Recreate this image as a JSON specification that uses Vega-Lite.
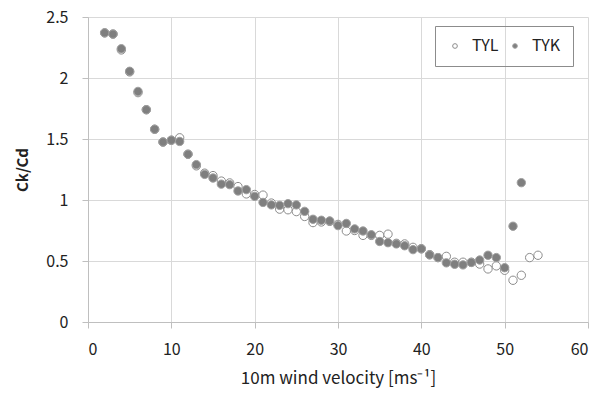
{
  "$schema": "https://vega.github.io/schema/vega-lite/v6.json",
  "width": 500,
  "height": 305,
  "autosize": {"type": "none"},
  "padding": {"left": 88, "top": 17, "right": 13, "bottom": 74},
  "background": "#ffffff",
  "config": {
    "font": "Noto Sans CJK JP",
    "view": {"stroke": null},
    "axis": {
      "gridColor": "#d9d9d9",
      "domainColor": "#bfbfbf",
      "tickColor": "#bfbfbf",
      "tickSize": 6,
      "labelFontSize": 16,
      "labelColor": "#222222",
      "titleFontSize": 15,
      "titleColor": "#222222",
      "labelFont": "Noto Sans CJK JP",
      "titleFont": "Noto Sans CJK JP"
    },
    "legend": {
      "labelFont": "Noto Sans CJK JP"
    }
  },
  "data": {
    "values": [
      {"v": 2, "r": 2.37, "s": "TYL"}, {"v": 3, "r": 2.36, "s": "TYL"}, {"v": 4, "r": 2.23, "s": "TYL"}, {"v": 5, "r": 2.05, "s": "TYL"},
      {"v": 6, "r": 1.88, "s": "TYL"}, {"v": 7, "r": 1.74, "s": "TYL"}, {"v": 8, "r": 1.58, "s": "TYL"}, {"v": 9, "r": 1.475, "s": "TYL"},
      {"v": 10, "r": 1.49, "s": "TYL"}, {"v": 11, "r": 1.51, "s": "TYL"}, {"v": 12, "r": 1.375, "s": "TYL"}, {"v": 13, "r": 1.28, "s": "TYL"},
      {"v": 14, "r": 1.22, "s": "TYL"}, {"v": 15, "r": 1.2, "s": "TYL"}, {"v": 16, "r": 1.155, "s": "TYL"}, {"v": 17, "r": 1.14, "s": "TYL"},
      {"v": 18, "r": 1.11, "s": "TYL"}, {"v": 19, "r": 1.05, "s": "TYL"}, {"v": 20, "r": 1.045, "s": "TYL"}, {"v": 21, "r": 1.04, "s": "TYL"},
      {"v": 22, "r": 0.975, "s": "TYL"}, {"v": 23, "r": 0.925, "s": "TYL"}, {"v": 24, "r": 0.92, "s": "TYL"}, {"v": 25, "r": 0.905, "s": "TYL"},
      {"v": 26, "r": 0.865, "s": "TYL"}, {"v": 27, "r": 0.815, "s": "TYL"}, {"v": 28, "r": 0.82, "s": "TYL"}, {"v": 29, "r": 0.825, "s": "TYL"},
      {"v": 30, "r": 0.8, "s": "TYL"}, {"v": 31, "r": 0.746, "s": "TYL"}, {"v": 32, "r": 0.75, "s": "TYL"}, {"v": 33, "r": 0.71, "s": "TYL"},
      {"v": 34, "r": 0.71, "s": "TYL"}, {"v": 35, "r": 0.71, "s": "TYL"}, {"v": 36, "r": 0.72, "s": "TYL"}, {"v": 37, "r": 0.645, "s": "TYL"},
      {"v": 38, "r": 0.64, "s": "TYL"}, {"v": 39, "r": 0.612, "s": "TYL"}, {"v": 40, "r": 0.6, "s": "TYL"}, {"v": 41, "r": 0.552, "s": "TYL"},
      {"v": 42, "r": 0.528, "s": "TYL"}, {"v": 43, "r": 0.538, "s": "TYL"}, {"v": 44, "r": 0.49, "s": "TYL"}, {"v": 45, "r": 0.49, "s": "TYL"},
      {"v": 46, "r": 0.49, "s": "TYL"}, {"v": 47, "r": 0.475, "s": "TYL"}, {"v": 48, "r": 0.435, "s": "TYL"}, {"v": 49, "r": 0.46, "s": "TYL"},
      {"v": 50, "r": 0.424, "s": "TYL"}, {"v": 51, "r": 0.342, "s": "TYL"}, {"v": 52, "r": 0.383, "s": "TYL"}, {"v": 53, "r": 0.528, "s": "TYL"},
      {"v": 54, "r": 0.547, "s": "TYL"},
      {"v": 2, "r": 2.37, "s": "TYK"}, {"v": 3, "r": 2.36, "s": "TYK"}, {"v": 4, "r": 2.24, "s": "TYK"}, {"v": 5, "r": 2.055, "s": "TYK"},
      {"v": 6, "r": 1.89, "s": "TYK"}, {"v": 7, "r": 1.74, "s": "TYK"}, {"v": 8, "r": 1.58, "s": "TYK"}, {"v": 9, "r": 1.475, "s": "TYK"},
      {"v": 10, "r": 1.49, "s": "TYK"}, {"v": 11, "r": 1.48, "s": "TYK"}, {"v": 12, "r": 1.375, "s": "TYK"}, {"v": 13, "r": 1.29, "s": "TYK"},
      {"v": 14, "r": 1.21, "s": "TYK"}, {"v": 15, "r": 1.18, "s": "TYK"}, {"v": 16, "r": 1.13, "s": "TYK"}, {"v": 17, "r": 1.126, "s": "TYK"},
      {"v": 18, "r": 1.074, "s": "TYK"}, {"v": 19, "r": 1.085, "s": "TYK"}, {"v": 20, "r": 1.03, "s": "TYK"}, {"v": 21, "r": 0.98, "s": "TYK"},
      {"v": 22, "r": 0.96, "s": "TYK"}, {"v": 23, "r": 0.956, "s": "TYK"}, {"v": 24, "r": 0.97, "s": "TYK"}, {"v": 25, "r": 0.96, "s": "TYK"},
      {"v": 26, "r": 0.907, "s": "TYK"}, {"v": 27, "r": 0.842, "s": "TYK"}, {"v": 28, "r": 0.834, "s": "TYK"}, {"v": 29, "r": 0.828, "s": "TYK"},
      {"v": 30, "r": 0.79, "s": "TYK"}, {"v": 31, "r": 0.808, "s": "TYK"}, {"v": 32, "r": 0.763, "s": "TYK"}, {"v": 33, "r": 0.746, "s": "TYK"},
      {"v": 34, "r": 0.715, "s": "TYK"}, {"v": 35, "r": 0.66, "s": "TYK"}, {"v": 36, "r": 0.65, "s": "TYK"}, {"v": 37, "r": 0.64, "s": "TYK"},
      {"v": 38, "r": 0.625, "s": "TYK"}, {"v": 39, "r": 0.593, "s": "TYK"}, {"v": 40, "r": 0.6, "s": "TYK"}, {"v": 41, "r": 0.55, "s": "TYK"},
      {"v": 42, "r": 0.528, "s": "TYK"}, {"v": 43, "r": 0.485, "s": "TYK"}, {"v": 44, "r": 0.473, "s": "TYK"}, {"v": 45, "r": 0.468, "s": "TYK"},
      {"v": 46, "r": 0.488, "s": "TYK"}, {"v": 47, "r": 0.508, "s": "TYK"}, {"v": 48, "r": 0.547, "s": "TYK"}, {"v": 49, "r": 0.528, "s": "TYK"},
      {"v": 50, "r": 0.445, "s": "TYK"}, {"v": 51, "r": 0.785, "s": "TYK"}, {"v": 52, "r": 1.142, "s": "TYK"}
    ]
  },
  "mark": {"type": "point", "shape": "circle", "size": 70, "strokeWidth": 1, "opacity": 1, "filled": false},
  "encoding": {
    "x": {
      "field": "v", "type": "quantitative",
      "scale": {"domain": [0, 60], "nice": false, "zero": true},
      "axis": {"values": [0, 10, 20, 30, 40, 50, 60], "title": "10m wind velocity [ms⁻¹]", "format": "d", "labelPadding": 13, "titlePadding": 13, "titleFontWeight": "normal", "titleFontSize": 17}
    },
    "y": {
      "field": "r", "type": "quantitative",
      "scale": {"domain": [0, 2.5], "nice": false},
      "axis": {"values": [0, 0.5, 1, 1.5, 2, 2.5], "title": "Ck/Cd", "format": "~g", "labelPadding": 14, "titlePadding": 15, "titleFontWeight": "bold"}
    },
    "fill": {
      "field": "s", "type": "nominal",
      "scale": {"domain": ["TYL", "TYK"], "range": ["#ffffff", "#7f7f7f"]},
      "legend": {
        "title": null, "orient": "none", "legendX": 347, "legendY": 9, "direction": "horizontal",
        "strokeColor": "#8c8c8c", "padding": 12, "symbolSize": 22, "symbolStrokeWidth": 1,
        "labelFontSize": 16, "labelColor": "#222222", "labelOffset": 9, "columnPadding": 8, "symbolType": "circle"
      }
    },
    "stroke": {
      "field": "s", "type": "nominal",
      "scale": {"domain": ["TYL", "TYK"], "range": ["#8c8c8c", "#a0a0a0"]},
      "legend": {
        "title": null, "orient": "none", "legendX": 347, "legendY": 9, "direction": "horizontal",
        "strokeColor": "#8c8c8c", "padding": 12, "symbolSize": 22, "symbolStrokeWidth": 1,
        "labelFontSize": 16, "labelColor": "#222222", "labelOffset": 9, "columnPadding": 8, "symbolType": "circle"
      }
    }
  }
}
